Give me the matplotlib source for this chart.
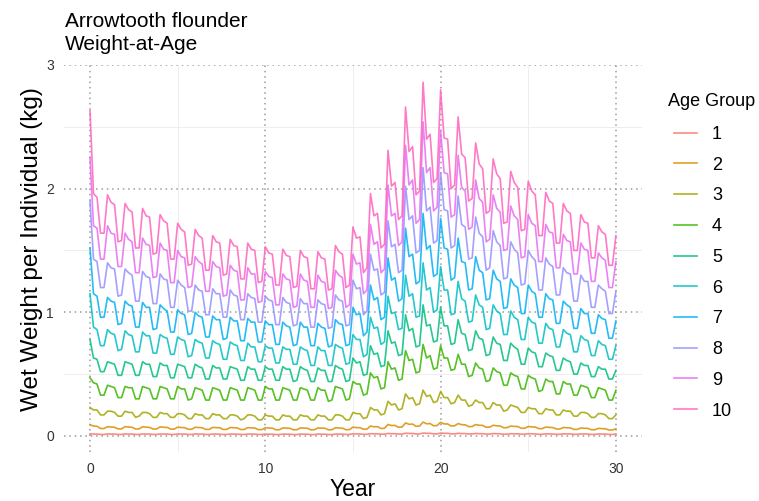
import numpy as np
import matplotlib
matplotlib.use("Agg")
import matplotlib.pyplot as plt
from matplotlib.lines import Line2D

plt.rcParams['font.family'] = ['Liberation Sans', 'DejaVu Sans']

# time axis: 5 outputs per year, years 0..30
years = np.linspace(0, 30, 151)
age_groups = ['1', '2', '3', '4', '5', '6', '7', '8', '9', '10']

w_age1 = [
    0.016, 0.015, 0.015, 0.012, 0.012,
    0.016, 0.015, 0.015, 0.012, 0.012,
    0.016, 0.015, 0.015, 0.012, 0.012,
    0.016, 0.015, 0.015, 0.012, 0.012,
    0.016, 0.015, 0.015, 0.012, 0.012,
    0.016, 0.015, 0.015, 0.012, 0.012,
    0.016, 0.015, 0.015, 0.012, 0.012,
    0.015, 0.015, 0.014, 0.012, 0.012,
    0.015, 0.015, 0.014, 0.012, 0.012,
    0.015, 0.015, 0.014, 0.012, 0.012,
    0.015, 0.014, 0.014, 0.011, 0.011,
    0.015, 0.014, 0.014, 0.011, 0.011,
    0.015, 0.014, 0.014, 0.011, 0.011,
    0.015, 0.014, 0.014, 0.011, 0.011,
    0.015, 0.015, 0.014, 0.012, 0.012,
    0.017, 0.016, 0.016, 0.013, 0.013,
    0.018, 0.017, 0.017, 0.014, 0.014,
    0.020, 0.018, 0.018, 0.015, 0.015,
    0.022, 0.020, 0.020, 0.016, 0.016,
    0.023, 0.021, 0.021, 0.017, 0.017,
    0.023, 0.021, 0.021, 0.017, 0.017,
    0.021, 0.019, 0.019, 0.016, 0.016,
    0.020, 0.018, 0.018, 0.015, 0.015,
    0.019, 0.018, 0.017, 0.014, 0.014,
    0.018, 0.017, 0.017, 0.014, 0.014,
    0.018, 0.017, 0.016, 0.013, 0.013,
    0.017, 0.016, 0.016, 0.013, 0.013,
    0.017, 0.016, 0.016, 0.013, 0.013,
    0.016, 0.016, 0.015, 0.012, 0.012,
    0.016, 0.015, 0.015, 0.012, 0.012,
    0.016,
]

w_age2 = [
    0.090, 0.080, 0.078, 0.060, 0.060,
    0.075, 0.072, 0.070, 0.057, 0.057,
    0.075, 0.072, 0.070, 0.056, 0.057,
    0.074, 0.071, 0.069, 0.056, 0.056,
    0.073, 0.070, 0.069, 0.055, 0.055,
    0.071, 0.068, 0.067, 0.054, 0.054,
    0.070, 0.068, 0.066, 0.053, 0.053,
    0.069, 0.067, 0.066, 0.052, 0.053,
    0.068, 0.066, 0.065, 0.052, 0.052,
    0.067, 0.065, 0.064, 0.051, 0.051,
    0.066, 0.064, 0.063, 0.050, 0.050,
    0.065, 0.063, 0.062, 0.050, 0.050,
    0.065, 0.063, 0.062, 0.049, 0.050,
    0.065, 0.063, 0.062, 0.049, 0.050,
    0.066, 0.064, 0.063, 0.050, 0.051,
    0.071, 0.067, 0.067, 0.054, 0.055,
    0.080, 0.074, 0.075, 0.060, 0.062,
    0.093, 0.084, 0.085, 0.070, 0.072,
    0.105, 0.094, 0.096, 0.078, 0.080,
    0.112, 0.098, 0.100, 0.082, 0.084,
    0.110, 0.097, 0.097, 0.080, 0.082,
    0.100, 0.091, 0.090, 0.075, 0.076,
    0.092, 0.086, 0.085, 0.070, 0.071,
    0.086, 0.082, 0.080, 0.066, 0.067,
    0.080, 0.077, 0.076, 0.062, 0.062,
    0.076, 0.073, 0.072, 0.059, 0.059,
    0.072, 0.069, 0.068, 0.056, 0.056,
    0.068, 0.066, 0.065, 0.053, 0.053,
    0.064, 0.062, 0.061, 0.050, 0.050,
    0.061, 0.059, 0.058, 0.048, 0.048,
    0.058,
]

w_age3 = [
    0.23, 0.21, 0.21, 0.17, 0.17,
    0.20, 0.20, 0.19, 0.16, 0.16,
    0.20, 0.19, 0.19, 0.15, 0.16,
    0.19, 0.19, 0.18, 0.15, 0.15,
    0.19, 0.18, 0.18, 0.15, 0.15,
    0.18, 0.18, 0.17, 0.14, 0.14,
    0.18, 0.17, 0.17, 0.14, 0.14,
    0.18, 0.17, 0.17, 0.14, 0.14,
    0.17, 0.17, 0.16, 0.13, 0.14,
    0.17, 0.17, 0.16, 0.13, 0.13,
    0.17, 0.16, 0.16, 0.13, 0.13,
    0.17, 0.16, 0.16, 0.13, 0.13,
    0.17, 0.16, 0.16, 0.13, 0.13,
    0.17, 0.16, 0.16, 0.13, 0.13,
    0.17, 0.17, 0.16, 0.13, 0.13,
    0.19, 0.18, 0.18, 0.14, 0.15,
    0.23, 0.21, 0.21, 0.17, 0.18,
    0.28, 0.25, 0.26, 0.21, 0.22,
    0.34, 0.30, 0.31, 0.25, 0.26,
    0.37, 0.32, 0.33, 0.27, 0.28,
    0.36, 0.31, 0.31, 0.26, 0.27,
    0.33, 0.29, 0.29, 0.24, 0.25,
    0.29, 0.27, 0.27, 0.22, 0.22,
    0.27, 0.25, 0.25, 0.20, 0.21,
    0.25, 0.24, 0.23, 0.19, 0.19,
    0.23, 0.22, 0.22, 0.18, 0.18,
    0.22, 0.21, 0.21, 0.17, 0.17,
    0.21, 0.20, 0.20, 0.16, 0.16,
    0.19, 0.19, 0.18, 0.15, 0.15,
    0.18, 0.18, 0.17, 0.14, 0.14,
    0.17,
]

w_age4 = [
    0.47, 0.43, 0.42, 0.33, 0.33,
    0.41, 0.40, 0.39, 0.31, 0.31,
    0.40, 0.39, 0.39, 0.30, 0.30,
    0.40, 0.39, 0.38, 0.30, 0.30,
    0.40, 0.39, 0.38, 0.30, 0.30,
    0.40, 0.38, 0.38, 0.29, 0.30,
    0.39, 0.38, 0.37, 0.29, 0.29,
    0.39, 0.38, 0.37, 0.29, 0.29,
    0.39, 0.38, 0.37, 0.29, 0.29,
    0.39, 0.38, 0.37, 0.29, 0.29,
    0.40, 0.38, 0.38, 0.29, 0.29,
    0.39, 0.38, 0.37, 0.29, 0.29,
    0.39, 0.38, 0.37, 0.29, 0.29,
    0.39, 0.37, 0.37, 0.28, 0.29,
    0.40, 0.39, 0.38, 0.29, 0.30,
    0.44, 0.42, 0.42, 0.33, 0.34,
    0.51, 0.47, 0.48, 0.38, 0.39,
    0.60, 0.54, 0.55, 0.45, 0.46,
    0.69, 0.61, 0.62, 0.51, 0.52,
    0.74, 0.63, 0.65, 0.54, 0.55,
    0.73, 0.63, 0.63, 0.53, 0.54,
    0.66, 0.58, 0.58, 0.48, 0.49,
    0.59, 0.55, 0.54, 0.44, 0.45,
    0.55, 0.52, 0.51, 0.41, 0.41,
    0.51, 0.49, 0.48, 0.38, 0.38,
    0.49, 0.47, 0.46, 0.36, 0.37,
    0.46, 0.44, 0.44, 0.34, 0.34,
    0.44, 0.42, 0.42, 0.33, 0.33,
    0.41, 0.40, 0.39, 0.31, 0.31,
    0.39, 0.38, 0.37, 0.29, 0.29,
    0.37,
]

w_age5 = [
    0.78, 0.63, 0.62, 0.52, 0.52,
    0.60, 0.59, 0.58, 0.49, 0.49,
    0.60, 0.59, 0.58, 0.49, 0.49,
    0.60, 0.58, 0.58, 0.48, 0.48,
    0.59, 0.57, 0.57, 0.47, 0.47,
    0.58, 0.57, 0.56, 0.47, 0.47,
    0.58, 0.56, 0.55, 0.46, 0.46,
    0.57, 0.55, 0.55, 0.46, 0.46,
    0.56, 0.55, 0.54, 0.45, 0.45,
    0.56, 0.54, 0.54, 0.45, 0.45,
    0.56, 0.54, 0.54, 0.45, 0.45,
    0.56, 0.54, 0.54, 0.44, 0.45,
    0.56, 0.54, 0.53, 0.44, 0.44,
    0.55, 0.53, 0.53, 0.44, 0.44,
    0.57, 0.55, 0.54, 0.44, 0.45,
    0.63, 0.59, 0.60, 0.49, 0.50,
    0.73, 0.66, 0.67, 0.56, 0.57,
    0.85, 0.75, 0.76, 0.65, 0.66,
    0.98, 0.85, 0.87, 0.72, 0.73,
    1.06, 0.89, 0.90, 0.76, 0.77,
    1.04, 0.89, 0.89, 0.74, 0.75,
    0.94, 0.83, 0.82, 0.69, 0.70,
    0.85, 0.79, 0.78, 0.65, 0.66,
    0.80, 0.75, 0.74, 0.61, 0.61,
    0.75, 0.72, 0.70, 0.58, 0.58,
    0.71, 0.68, 0.67, 0.56, 0.56,
    0.67, 0.65, 0.64, 0.53, 0.53,
    0.63, 0.61, 0.60, 0.50, 0.50,
    0.59, 0.57, 0.57, 0.48, 0.48,
    0.56, 0.54, 0.54, 0.46, 0.46,
    0.53,
]

w_age6 = [
    1.15, 0.88, 0.86, 0.73, 0.73,
    0.86, 0.83, 0.82, 0.69, 0.70,
    0.85, 0.82, 0.81, 0.68, 0.68,
    0.84, 0.81, 0.81, 0.67, 0.67,
    0.82, 0.80, 0.79, 0.66, 0.66,
    0.80, 0.78, 0.77, 0.64, 0.65,
    0.78, 0.76, 0.75, 0.63, 0.63,
    0.77, 0.75, 0.74, 0.62, 0.62,
    0.76, 0.74, 0.73, 0.61, 0.61,
    0.75, 0.72, 0.72, 0.60, 0.60,
    0.73, 0.71, 0.71, 0.59, 0.59,
    0.72, 0.70, 0.70, 0.58, 0.58,
    0.72, 0.70, 0.69, 0.57, 0.57,
    0.72, 0.69, 0.69, 0.57, 0.57,
    0.74, 0.72, 0.71, 0.58, 0.59,
    0.82, 0.78, 0.78, 0.64, 0.66,
    0.96, 0.87, 0.88, 0.74, 0.76,
    1.13, 0.99, 1.00, 0.86, 0.87,
    1.30, 1.13, 1.15, 0.96, 0.97,
    1.40, 1.18, 1.20, 1.00, 1.02,
    1.37, 1.18, 1.18, 0.98, 0.99,
    1.25, 1.11, 1.09, 0.92, 0.93,
    1.14, 1.06, 1.04, 0.86, 0.87,
    1.06, 1.01, 0.99, 0.82, 0.82,
    1.01, 0.96, 0.94, 0.78, 0.78,
    0.96, 0.92, 0.91, 0.75, 0.75,
    0.91, 0.87, 0.86, 0.72, 0.72,
    0.86, 0.83, 0.82, 0.68, 0.68,
    0.81, 0.78, 0.77, 0.65, 0.65,
    0.77, 0.74, 0.73, 0.62, 0.62,
    0.73,
]

w_age7 = [
    1.52, 1.15, 1.13, 0.96, 0.96,
    1.12, 1.09, 1.08, 0.90, 0.91,
    1.09, 1.06, 1.05, 0.88, 0.88,
    1.08, 1.04, 1.04, 0.86, 0.87,
    1.06, 1.03, 1.01, 0.84, 0.84,
    1.02, 0.99, 0.98, 0.82, 0.83,
    1.00, 0.97, 0.96, 0.80, 0.80,
    0.97, 0.94, 0.94, 0.78, 0.79,
    0.96, 0.93, 0.93, 0.77, 0.77,
    0.95, 0.92, 0.92, 0.76, 0.76,
    0.93, 0.90, 0.90, 0.74, 0.74,
    0.92, 0.89, 0.88, 0.73, 0.74,
    0.92, 0.88, 0.88, 0.73, 0.73,
    0.91, 0.88, 0.87, 0.72, 0.73,
    0.94, 0.91, 0.90, 0.73, 0.74,
    1.04, 0.98, 0.99, 0.81, 0.84,
    1.22, 1.10, 1.12, 0.94, 0.96,
    1.44, 1.26, 1.28, 1.09, 1.11,
    1.68, 1.45, 1.47, 1.23, 1.25,
    1.80, 1.51, 1.54, 1.29, 1.31,
    1.76, 1.52, 1.51, 1.26, 1.28,
    1.60, 1.41, 1.40, 1.18, 1.19,
    1.45, 1.34, 1.32, 1.10, 1.11,
    1.34, 1.27, 1.25, 1.03, 1.04,
    1.27, 1.22, 1.20, 0.99, 0.99,
    1.22, 1.17, 1.15, 0.96, 0.96,
    1.15, 1.11, 1.10, 0.91, 0.91,
    1.09, 1.06, 1.04, 0.87, 0.87,
    1.03, 0.99, 0.99, 0.83, 0.83,
    0.98, 0.95, 0.94, 0.79, 0.79,
    0.93,
]

w_age8 = [
    1.90, 1.43, 1.41, 1.20, 1.20,
    1.40, 1.36, 1.35, 1.13, 1.14,
    1.35, 1.32, 1.30, 1.09, 1.09,
    1.33, 1.29, 1.28, 1.07, 1.07,
    1.31, 1.27, 1.26, 1.04, 1.04,
    1.26, 1.22, 1.20, 1.01, 1.01,
    1.22, 1.18, 1.17, 0.98, 0.98,
    1.19, 1.15, 1.15, 0.96, 0.96,
    1.18, 1.14, 1.13, 0.94, 0.94,
    1.15, 1.12, 1.11, 0.92, 0.92,
    1.13, 1.10, 1.09, 0.90, 0.90,
    1.12, 1.08, 1.07, 0.89, 0.90,
    1.11, 1.07, 1.07, 0.88, 0.88,
    1.10, 1.07, 1.06, 0.87, 0.88,
    1.14, 1.10, 1.09, 0.89, 0.90,
    1.26, 1.19, 1.20, 0.98, 1.01,
    1.47, 1.34, 1.35, 1.14, 1.16,
    1.74, 1.53, 1.55, 1.32, 1.34,
    2.02, 1.75, 1.78, 1.48, 1.50,
    2.17, 1.82, 1.85, 1.56, 1.58,
    2.13, 1.83, 1.82, 1.52, 1.54,
    1.94, 1.71, 1.69, 1.43, 1.44,
    1.77, 1.64, 1.61, 1.34, 1.36,
    1.66, 1.57, 1.54, 1.27, 1.28,
    1.57, 1.51, 1.48, 1.22, 1.23,
    1.50, 1.45, 1.42, 1.18, 1.18,
    1.44, 1.39, 1.37, 1.14, 1.14,
    1.36, 1.32, 1.31, 1.09, 1.09,
    1.30, 1.25, 1.25, 1.04, 1.04,
    1.22, 1.19, 1.17, 0.99, 0.99,
    1.17,
]

w_age9 = [
    2.25, 1.70, 1.68, 1.43, 1.43,
    1.70, 1.64, 1.63, 1.37, 1.37,
    1.64, 1.59, 1.57, 1.32, 1.32,
    1.60, 1.55, 1.54, 1.28, 1.29,
    1.56, 1.51, 1.50, 1.24, 1.24,
    1.50, 1.45, 1.44, 1.20, 1.21,
    1.45, 1.41, 1.39, 1.17, 1.17,
    1.41, 1.37, 1.36, 1.13, 1.14,
    1.38, 1.34, 1.33, 1.10, 1.10,
    1.36, 1.31, 1.31, 1.08, 1.09,
    1.33, 1.29, 1.28, 1.06, 1.06,
    1.31, 1.27, 1.26, 1.04, 1.05,
    1.31, 1.26, 1.25, 1.04, 1.04,
    1.30, 1.25, 1.24, 1.03, 1.04,
    1.34, 1.30, 1.28, 1.04, 1.06,
    1.47, 1.39, 1.40, 1.15, 1.18,
    1.71, 1.55, 1.57, 1.32, 1.35,
    2.03, 1.78, 1.80, 1.54, 1.57,
    2.35, 2.03, 2.07, 1.72, 1.75,
    2.54, 2.13, 2.17, 1.82, 1.85,
    2.47, 2.13, 2.12, 1.77, 1.79,
    2.27, 2.01, 1.98, 1.67, 1.69,
    2.07, 1.92, 1.89, 1.57, 1.59,
    1.95, 1.84, 1.81, 1.50, 1.51,
    1.86, 1.78, 1.75, 1.44, 1.45,
    1.79, 1.72, 1.70, 1.41, 1.41,
    1.71, 1.65, 1.64, 1.36, 1.36,
    1.63, 1.58, 1.57, 1.31, 1.31,
    1.56, 1.51, 1.50, 1.25, 1.25,
    1.48, 1.44, 1.42, 1.20, 1.20,
    1.41,
]

w_age10 = [
    2.63, 1.96, 1.93, 1.64, 1.64,
    1.95, 1.89, 1.87, 1.57, 1.58,
    1.88, 1.83, 1.81, 1.52, 1.52,
    1.84, 1.78, 1.77, 1.47, 1.48,
    1.79, 1.74, 1.72, 1.43, 1.43,
    1.72, 1.67, 1.65, 1.38, 1.39,
    1.67, 1.62, 1.60, 1.34, 1.34,
    1.62, 1.57, 1.56, 1.30, 1.31,
    1.59, 1.54, 1.53, 1.27, 1.27,
    1.56, 1.51, 1.50, 1.24, 1.25,
    1.53, 1.48, 1.47, 1.22, 1.22,
    1.51, 1.46, 1.45, 1.20, 1.21,
    1.50, 1.45, 1.44, 1.19, 1.19,
    1.49, 1.44, 1.43, 1.18, 1.19,
    1.54, 1.49, 1.47, 1.20, 1.22,
    1.69, 1.60, 1.61, 1.32, 1.36,
    1.96, 1.78, 1.80, 1.52, 1.55,
    2.31, 2.02, 2.05, 1.75, 1.78,
    2.66, 2.30, 2.34, 1.95, 1.98,
    2.86, 2.40, 2.44, 2.05, 2.08,
    2.80, 2.41, 2.40, 2.00, 2.03,
    2.58, 2.28, 2.25, 1.90, 1.92,
    2.37, 2.20, 2.16, 1.80, 1.82,
    2.24, 2.12, 2.08, 1.72, 1.73,
    2.14, 2.05, 2.01, 1.66, 1.67,
    2.06, 1.98, 1.95, 1.62, 1.62,
    1.97, 1.90, 1.88, 1.56, 1.56,
    1.88, 1.82, 1.80, 1.50, 1.50,
    1.79, 1.73, 1.72, 1.44, 1.44,
    1.70, 1.65, 1.63, 1.38, 1.38,
    1.62,
]

series = [w_age1, w_age2, w_age3, w_age4, w_age5,
          w_age6, w_age7, w_age8, w_age9, w_age10]
colors = ['#F8766D', '#D89000', '#A3A500', '#39B600', '#00BF7D',
          '#00BFC4', '#00B0F6', '#9590FF', '#E76BF3', '#FF62BC']

W, H = 759, 501
fig = plt.figure(figsize=(W / 100, H / 100), dpi=100)
left_px, right_px, top_px, bot_px = 63.7, 642.2, 64.5, 452.0
ax = fig.add_axes([left_px / W, 1 - bot_px / H,
                   (right_px - left_px) / W, (bot_px - top_px) / H])

for lab, vals, col in zip(age_groups, series, colors):
    ax.plot(years, vals, color=col, lw=1.2, alpha=0.85, label=lab)

ax.set_xlim(-1.5, 31.5)
ax.set_ylim(-0.13, 3.004)
ax.set_xticks([0, 10, 20, 30])
ax.set_yticks([0, 1, 2, 3])
ax.set_xticks([5, 15, 25], minor=True)
ax.set_yticks([0.5, 1.5, 2.5], minor=True)
ax.grid(which='major', color='#9a9a9a', linestyle=(0, (1, 2.5)), lw=1.1)
ax.grid(which='minor', color='#ebebeb', lw=0.6)
ax.set_axisbelow(True)
ax.tick_params(which='both', length=0, labelsize=10, colors='#333333')
ax.tick_params(axis='y', pad=7)
ax.tick_params(axis='x', pad=7)
for s in ax.spines.values():
    s.set_visible(False)

fig.text(32.5 / W, 1 - 249 / H, 'Wet Weight per Individual (kg)', rotation=90,
         ha='center', va='center', fontsize=17.5, color='black')
fig.text(353 / W, 1 - 496.5 / H, 'Year', ha='center', va='baseline',
         fontsize=16.5, color='black')
fig.text(65 / W, 1 - 27 / H, 'Arrowtooth flounder', ha='left', va='baseline',
         fontsize=15, color='black')
fig.text(65 / W, 1 - 50.5 / H, 'Weight-at-Age', ha='left', va='baseline',
         fontsize=15, color='black')

# legend title and entries
fig.text(668 / W, 1 - 106 / H, 'Age Group', ha='left', va='baseline',
         fontsize=13, color='black')
handles = [Line2D([], [], color=c, lw=1.2, alpha=0.85) for c in colors]
leg = fig.legend(handles, age_groups, loc='upper left',
                 bbox_to_anchor=(674 / W, 1 - 126 / H),
                 fontsize=13, frameon=False, handlelength=1.3,
                 handletextpad=0.8, labelspacing=0.76,
                 borderaxespad=0, borderpad=0)

fig.savefig('out.png', dpi=100)
